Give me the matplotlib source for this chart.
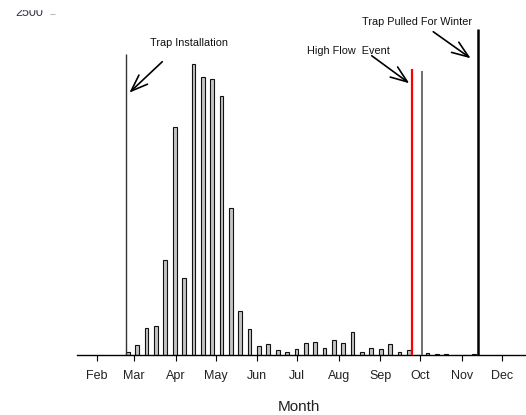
import matplotlib
matplotlib.use('Agg')
import matplotlib.pyplot as plt
import numpy as np
from matplotlib.patches import Rectangle

plt.rcParams['font.family'] = ['Liberation Sans', 'DejaVu Sans']

# ---- data ----
week_start_day = 55.3  # day of year of first weekly sample (late Feb)
weekly_counts = [20, 71, 196, 213, 697, 1669, 567, 2134, 2040, 2024, 1899, 1075,
                 323, 188, 68, 78, 34, 24, 42, 86, 93, 51, 110, 86, 169, 24,
                 51, 42, 78, 24, 34, 0, 12, 4, 4, 0, 0, 6]
week_days = week_start_day + 7 * np.arange(len(weekly_counts))

month_labels = ['Feb', 'Mar', 'Apr', 'May', 'Jun', 'Jul', 'Aug', 'Sep', 'Oct', 'Nov', 'Dec']
month_start_days = [32, 60, 91, 121, 152, 182, 213, 244, 274, 305, 335]

y_tick_values = [2500]
y_tick_labels = ['2500']

event_days = [54.0, 267.7, 275.5, 317.0]
event_heights = [2207, 2094, 2085, 2390]
event_colors = ['#333333', '#ff0000', '#555555', '#000000']
event_widths = [1.0, 1.6, 1.2, 1.8]

annotation_texts = ['Trap Installation', 'High Flow  Event', 'Trap Pulled For Winter']
annotation_text_xy = [(101.0, 2287), (220.2, 2231), (271.8, 2444)]
annotation_tail_xy = [(81.0, 2150), (237.6, 2194), (283.6, 2370)]
annotation_tip_xy = [(56.4, 1923), (265.7, 1992), (311.6, 2175)]

# ---- layout ----
W, H = 526, 415
fig = plt.figure(figsize=(W / 100, H / 100), dpi=100)
px_per_day = 1.3376
x0_px = 77
xmin = 32 - (96.7 - x0_px) / px_per_day
xmax = 360
ax_w_px = (xmax - xmin) * px_per_day
ax = fig.add_axes([x0_px / W, (H - 355) / H, ax_w_px / W, 341 / H])
ax.set_xlim(xmin, xmax)
ax.set_ylim(0, 2500)

for s in ['top', 'right']:
    ax.spines[s].set_visible(False)
ax.spines['left'].set_position(('outward', 15.8))
ax.spines['left'].set_visible(False)
ax.spines['bottom'].set_linewidth(1.0)

ax.set_yticks(y_tick_values)
ax.set_yticklabels([''] * len(y_tick_values))
ax.tick_params(axis='y', length=3.6, width=0.8, color='#bbbbbb')
# y label drawn slightly below its tick, top part cropped as in the reference
for v, lab in zip(y_tick_values, y_tick_labels):
    ax.annotate(lab, xy=(0, v), xycoords=('axes fraction', 'data'),
                xytext=(-24, -1.2), textcoords='offset points',
                ha='right', va='baseline', fontsize=9, color='#333344',
                annotation_clip=False)

ax.set_xticks(month_start_days)
ax.set_xticklabels(month_labels)
ax.tick_params(axis='x', length=4.3, width=0.8, labelsize=9, pad=6.5, labelcolor='#222222')

ax.bar(week_days, weekly_counts, width=2.8, color='#c4c4c4', edgecolor='#111111',
       linewidth=0.8, zorder=2)

for d, h, c, lw in zip(event_days, event_heights, event_colors, event_widths):
    ax.vlines(d, 0, h, colors=c, linewidth=lw, zorder=3)

for t, txy, tail, tip in zip(annotation_texts, annotation_text_xy,
                             annotation_tail_xy, annotation_tip_xy):
    ax.text(txy[0], txy[1], t, ha='center', va='center', fontsize=7.8, color='#111111')
    ax.annotate('', xy=tip, xytext=tail,
                arrowprops=dict(arrowstyle='->,head_length=1.2,head_width=0.45',
                                mutation_scale=10, lw=1.2, color='black',
                                shrinkA=0, shrinkB=0),
                annotation_clip=False)

fig.text(299 / W, 1 - 407 / H, 'Month', ha='center', va='center', fontsize=11, color='#222222')

# top of the y label is cropped in the reference
fig.add_artist(Rectangle((0, 1 - 9.5 / H), 60 / W, 9.5 / H, transform=fig.transFigure,
                         color='white', zorder=10))

fig.savefig('out.png', dpi=100)
